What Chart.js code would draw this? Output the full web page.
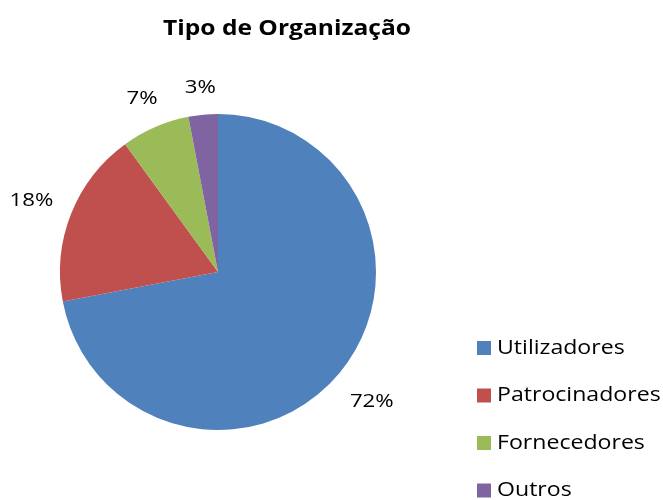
<!DOCTYPE html>
<html>
<head>
<meta charset="utf-8">
<script src="https://cdn.jsdelivr.net/npm/chart.js@4"></script>
<style>
html,body{margin:0;padding:0;background:#fff;}
#wrap{width:663px;height:500px;position:relative;}
</style>
</head>
<body>
<div id="wrap"><canvas id="c" width="663" height="500"></canvas></div>
<script>
const chartTitle = "Tipo de Organização";
const categories = ["Utilizadores", "Patrocinadores", "Fornecedores", "Outros"];
const values = [72, 18, 7, 3];
const valueLabels = ["72%", "18%", "7%", "3%"];
const colors = ["#4F81BD", "#C0504D", "#9BBB59", "#8064A2"];

const FONT = "'Open Sans', Lato, sans-serif";

function drawStretched(ctx, txt, x, y, sx, align) {
  ctx.save();
  ctx.translate(x, y);
  ctx.scale(sx, 1);
  ctx.textAlign = align;
  ctx.fillText(txt, 0, 0);
  ctx.restore();
}

const drawPlugin = {
  id: 'customDraw',
  afterDraw(chart) {
    const ctx = chart.ctx;
    ctx.save();
    ctx.textBaseline = 'middle';
    ctx.fillStyle = '#000';
    // title
    ctx.font = "bold 21px " + FONT;
    drawStretched(ctx, chartTitle, 287, 29, 1.17, 'center');

    // data labels
    const meta = chart.getDatasetMeta(0);
    ctx.font = "19px " + FONT;
    meta.data.forEach((arc, i) => {
      const p = arc.getProps(['x','y','startAngle','endAngle','outerRadius'], true);
      const mid = (p.startAngle + p.endAngle) / 2;
      const txt = valueLabels[i];
      const w = ctx.measureText(txt).width * 1.17;
      const h = 18;
      const c = Math.cos(mid), s = Math.sin(mid);
      const r = p.outerRadius + 19 + Math.abs(c) * w / 2 + Math.abs(s) * h / 2;
      drawStretched(ctx, txt, p.x + c * r, p.y + s * r + 2, 1.17, 'center');
    });

    // legend
    ctx.font = "20px " + FONT;
    categories.forEach((cat, i) => {
      const y = 348 + i * 47.5;
      ctx.fillStyle = colors[i];
      ctx.fillRect(477, y - 7, 14, 14);
      ctx.fillStyle = '#000';
      drawStretched(ctx, cat, 497, y, 1.155, 'left');
    });
    ctx.restore();
  }
};

new Chart(document.getElementById('c'), {
  type: 'pie',
  data: {
    labels: categories,
    datasets: [{
      data: values,
      backgroundColor: colors,
      borderWidth: 0
    }]
  },
  options: {
    responsive: false,
    animation: false,
    layout: { padding: { left: 60, top: 114, right: 287, bottom: 70 } },
    plugins: {
      legend: { display: false },
      title: { display: false },
      tooltip: { enabled: false }
    }
  },
  plugins: [drawPlugin]
});
</script>
</body>
</html>
